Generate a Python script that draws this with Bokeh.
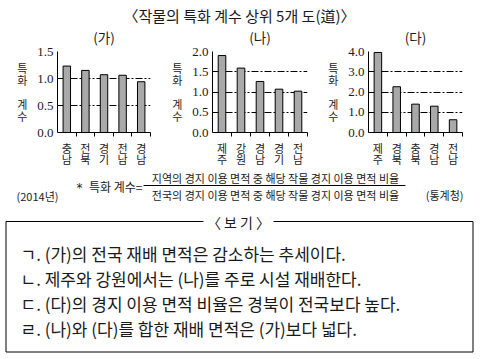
from bokeh.plotting import figure
from bokeh.layouts import column, row
from bokeh.models import Range1d, FixedTicker, NumeralTickFormatter, ColumnDataSource, Title
from bokeh.embed import file_html
from bokeh.resources import INLINE
from bokeh.core.properties import value

# ---------------- data ----------------
TITLE = "〈작물의 특화 계수 상위 5개 도(道)〉"
panel_titles = ["(가)", "(나)", "(다)"]

regions_ga = ["충남", "전북", "경기", "전남", "경남"]
values_ga = [1.23, 1.15, 1.07, 1.06, 0.94]
yticks_ga = [0.0, 0.5, 1.0, 1.5]

regions_na = ["제주", "강원", "경남", "경기", "전남"]
values_na = [1.90, 1.59, 1.26, 1.07, 1.02]
yticks_na = [0.0, 0.5, 1.0, 1.5, 2.0]

regions_da = ["제주", "경북", "충북", "경남", "전남"]
values_da = [3.95, 2.26, 1.40, 1.30, 0.63]
yticks_da = [0.0, 1.0, 2.0, 3.0, 4.0]

y_label = "특화 계수"
note_year = "(2014년)"
note_source = "(통계청)"
note_def = "특화 계수="
note_num = "지역의 경지 이용 면적 중 해당 작물 경지 이용 면적 비율"
note_den = "전국의 경지 이용 면적 중 해당 작물 경지 이용 면적 비율"
box_title = "〈 보 기 〉"
box_lines = [
    "ㄱ. (가)의 전국 재배 면적은 감소하는 추세이다.",
    "ㄴ. 제주와 강원에서는 (나)를 주로 시설 재배한다.",
    "ㄷ. (다)의 경지 이용 면적 비율은 경북이 전국보다 높다.",
    "ㄹ. (나)와 (다)를 합한 재배 면적은 (가)보다 넓다.",
]

KR = value("Noto Sans CJK KR")
SERIF = "Liberation Serif"
INK = "#1a1a1a"

HEAD_H = 26
OVERLAP = 4
CH_H = 148
BOT_H = 189


def stacked(word):
    # vertical stacking of Hangul characters, blank line for spaces
    return "\n".join("" if c == " " else c for c in word)


def make_chart(title, regions, vals, yticks, width, left, right):
    n = len(regions)
    xs = list(range(n))
    p = figure(width=width, height=CH_H, title=None,
               x_range=Range1d(-0.5, n - 0.5), y_range=Range1d(yticks[0], yticks[-1]),
               output_backend="svg", toolbar_location=None,
               min_border_left=left, min_border_right=right,
               min_border_top=29, min_border_bottom=36)
    p.outline_line_color = None
    p.border_fill_color = None
    p.background_fill_color = "white"
    # thin spacer between panel title and plot frame (nearest the frame)
    p.add_layout(Title(text=" ", text_font="Noto Sans CJK KR", text_font_size="2px",
                       standoff=0, offset=0), "above")
    p.add_layout(Title(text=title, align="center", text_font="Noto Sans CJK KR",
                       text_font_size="13.5px", text_font_style="normal",
                       text_color=INK, standoff=0), "above")

    src = ColumnDataSource(dict(x=xs, top=vals))
    p.vbar(x="x", top="top", width=0.4, source=src,
           fill_color="#a9a9a9", line_color="black", line_width=1)

    p.xgrid.visible = False
    g = p.ygrid[0]
    g.ticker = FixedTicker(ticks=yticks)
    g.grid_line_color = "black"
    g.grid_line_dash = "7 2 2 2"
    g.grid_line_width = 1

    ya = p.yaxis[0]
    ya.ticker = FixedTicker(ticks=yticks)
    ya.formatter = NumeralTickFormatter(format="0.0")
    ya.major_tick_out = 0
    ya.major_tick_in = 0
    ya.minor_tick_line_color = None
    ya.axis_line_color = "black"
    ya.major_label_text_font = SERIF
    ya.major_label_text_font_size = "13px"
    ya.major_label_text_color = INK
    ya.major_label_standoff = 4
    ya.axis_label = stacked(y_label)
    ya.axis_label_orientation = "horizontal"
    ya.axis_label_text_font = "Noto Sans CJK KR"
    ya.axis_label_text_font_size = "11px"
    ya.axis_label_text_font_style = "normal"
    ya.axis_label_text_color = INK
    ya.axis_label_text_line_height = 0.74
    ya.axis_label_standoff = 7

    xa = p.xaxis[0]
    xa.ticker = FixedTicker(ticks=xs, minor_ticks=[i + 0.5 for i in xs])
    xa.major_label_overrides = {i: stacked(r) for i, r in enumerate(regions)}
    xa.major_tick_out = 0
    xa.major_tick_in = 0
    xa.minor_tick_out = 4
    xa.minor_tick_in = 0
    xa.minor_tick_line_color = "black"
    xa.axis_line_color = "black"
    xa.major_label_text_font = "Noto Sans CJK KR"
    xa.major_label_text_font_size = "11px"
    xa.major_label_text_color = INK
    xa.major_label_text_line_height = 0.72
    xa.major_label_standoff = 3
    return p


def canvas(height, y_top, y_bottom):
    p = figure(width=480, height=height,
               x_range=Range1d(0, 480), y_range=Range1d(y_bottom, y_top),
               x_axis_location=None, y_axis_location=None,
               output_backend="svg", toolbar_location=None, min_border=0)
    p.outline_line_color = None
    p.grid.visible = False
    return p


# ---------------- header ----------------
head = canvas(HEAD_H, 0, HEAD_H)
head.text(x=[239], y=[15], text=[TITLE], text_align="center", text_baseline="middle",
          text_font=KR, text_font_size="15px", text_color=INK)

# ---------------- charts ----------------
f1 = make_chart(panel_titles[0], regions_ga, values_ga, yticks_ga, 160, 57, 10)
f2 = make_chart(panel_titles[1], regions_na, values_na, yticks_na, 160, 52, 13)
f3 = make_chart(panel_titles[2], regions_da, values_da, yticks_da, 160, 48, 18)
charts = row(f1, f2, f3, margin=(-OVERLAP, 0, 0, 0))

# ---------------- footnote + box ----------------
y0 = HEAD_H - OVERLAP + CH_H
bot = canvas(BOT_H, y0, y0 + BOT_H)
bot.text(x=[16], y=[195], text=[note_year], text_align="left", text_baseline="middle",
         text_font=KR, text_font_size="11px", text_color=INK)
bot.text(x=[463], y=[194], text=[note_source], text_align="right", text_baseline="middle",
         text_font=KR, text_font_size="11px", text_color=INK)
bot.text(x=[79], y=[187], text=["*"], text_align="center", text_baseline="middle",
         text_font=value("DejaVu Sans"), text_font_size="12px", text_color=INK)
bot.text(x=[142], y=[186], text=[note_def], text_align="right", text_baseline="middle",
         text_font=KR, text_font_size="12px", text_color=INK)
bot.text(x=[275, 275], y=[177, 194], text=[note_num, note_den], text_align="center",
         text_baseline="middle", text_font=KR, text_font_size="11px", text_color=INK)
bot.segment(x0=[143], y0=[185], x1=[405], y1=[185], line_color="black", line_width=1)

# box frame
bx0, bx1, by0, by1 = 5.5, 472.5, 221, 351.5
bot.multi_line(xs=[[203, bx0, bx0, bx1, bx1, 273]], ys=[[by0, by0, by1, by1, by0, by0]],
               line_color="black", line_width=1)
bot.text(x=[238], y=[221], text=[box_title], text_align="center", text_baseline="middle",
         text_font=KR, text_font_size="14px", text_color=INK)
bot.text(x=[20] * 4, y=[253, 278, 303, 328], text=box_lines, text_align="left",
         text_baseline="middle", text_font=KR, text_font_size="17px", text_color=INK)

layout = column(head, charts, bot)
open("out.html", "w").write(file_html(layout, INLINE))
